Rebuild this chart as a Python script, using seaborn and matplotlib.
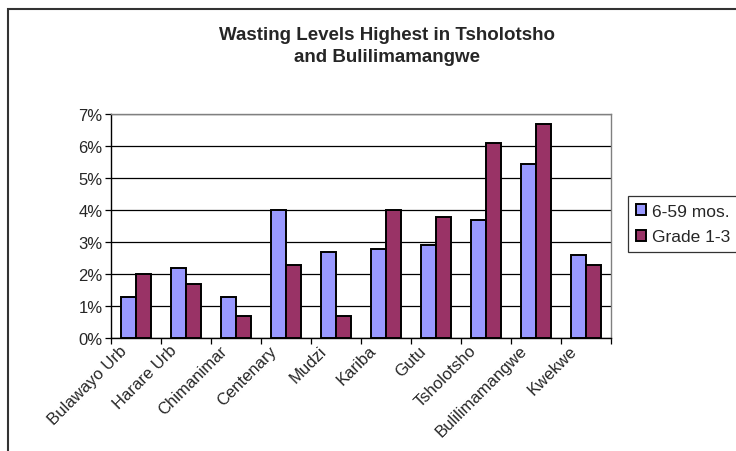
import numpy as np
import pandas as pd
import matplotlib
matplotlib.use('Agg')
import matplotlib.pyplot as plt
import matplotlib.transforms as mtransforms
import seaborn as sns
from matplotlib.patches import Rectangle
from matplotlib.ticker import FixedLocator, PercentFormatter

# data
districts = ['Bulawayo Urb', 'Harare Urb', 'Chimanimar', 'Centenary', 'Mudzi',
             'Kariba', 'Gutu', 'Tsholotsho', 'Bulilimamangwe', 'Kwekwe']
under5 = [1.3, 2.2, 1.3, 4.0, 2.7, 2.8, 2.9, 3.7, 5.45, 2.6]     # 6-59 mos.
grade13 = [2.0, 1.7, 0.7, 2.3, 0.7, 4.0, 3.8, 6.1, 6.7, 2.3]     # Grade 1-3
groups = ['6-59 mos.', 'Grade 1-3']

df = pd.DataFrame({
    'district': districts * 2,
    'group': [groups[0]] * len(districts) + [groups[1]] * len(districts),
    'value': under5 + grade13,
})

sns.set_style('white')
plt.rcParams['font.family'] = ['Liberation Sans', 'DejaVu Sans']

fig = plt.figure(figsize=(7.36, 4.52), dpi=100)
ax = fig.add_axes([0.1508, 0.2493, 0.679, 0.4963])

sns.barplot(data=df, x='district', y='value', hue='group', order=districts,
            palette=['#9999FF', '#993366'], width=0.6, edgecolor='black',
            linewidth=1.4, saturation=1, ax=ax, zorder=3)

ax.set_xlim(-0.5, len(districts) - 0.5)
ax.set_ylim(0, 7)
ax.set_yticks(range(0, 8))
ax.yaxis.set_major_formatter(PercentFormatter(decimals=0))
ax.yaxis.grid(True, color='black', linewidth=0.9, zorder=0)
ax.set_axisbelow(True)
ax.set_xlabel('')
ax.set_ylabel('')

# x ticks at category boundaries, labels at centres
ax.xaxis.set_minor_locator(FixedLocator(np.arange(-0.5, len(districts), 1)))
ax.tick_params(axis='x', which='minor', length=4, width=0.9, color='black', direction='out', bottom=True)
ax.tick_params(axis='x', which='major', length=0, pad=3)
ax.tick_params(axis='y', length=4, width=0.9, color='black', direction='out', left=True, labelsize=12, pad=2)
ax.set_xticks(range(len(districts)))
ax.set_xticklabels(districts, rotation=45, ha='right', va='top',
                   rotation_mode='anchor', fontsize=12)
shift = mtransforms.ScaledTranslation(-17 / 100, 0, fig.dpi_scale_trans)
for lab in ax.get_xticklabels():
    lab.set_transform(lab.get_transform() + shift)

for side in ['left', 'bottom']:
    ax.spines[side].set_color('black')
    ax.spines[side].set_linewidth(1.0)
for side in ['top', 'right']:
    ax.spines[side].set_color('#808080')
    ax.spines[side].set_linewidth(1.0)

leg = ax.legend(loc='upper left', bbox_to_anchor=(628 / 736, 1 - 197 / 452),
                bbox_transform=fig.transFigure, frameon=True, fancybox=False,
                fontsize=12.5, handlelength=0.6, handleheight=0.6, handletextpad=0.35,
                borderpad=0.45, labelspacing=0.6, borderaxespad=0)
leg.get_frame().set_edgecolor('black')
leg.get_frame().set_linewidth(0.9)

fig.text(387 / 736, 1 - 35 / 452, 'Wasting Levels Highest in Tsholotsho',
         ha='center', va='center', fontsize=13.5, fontweight='bold')
fig.text(387 / 736, 1 - 57 / 452, 'and Bulilimamangwe',
         ha='center', va='center', fontsize=13.5, fontweight='bold')

# outer chart border (clipped on right and bottom in the reference)
fig.patches.append(Rectangle((8 / 736, -0.1), 1.2, 1.1 - 10 / 452,
                             transform=fig.transFigure, fill=False,
                             edgecolor='#333333', linewidth=1.5))

fig.savefig('out.png', dpi=100)
